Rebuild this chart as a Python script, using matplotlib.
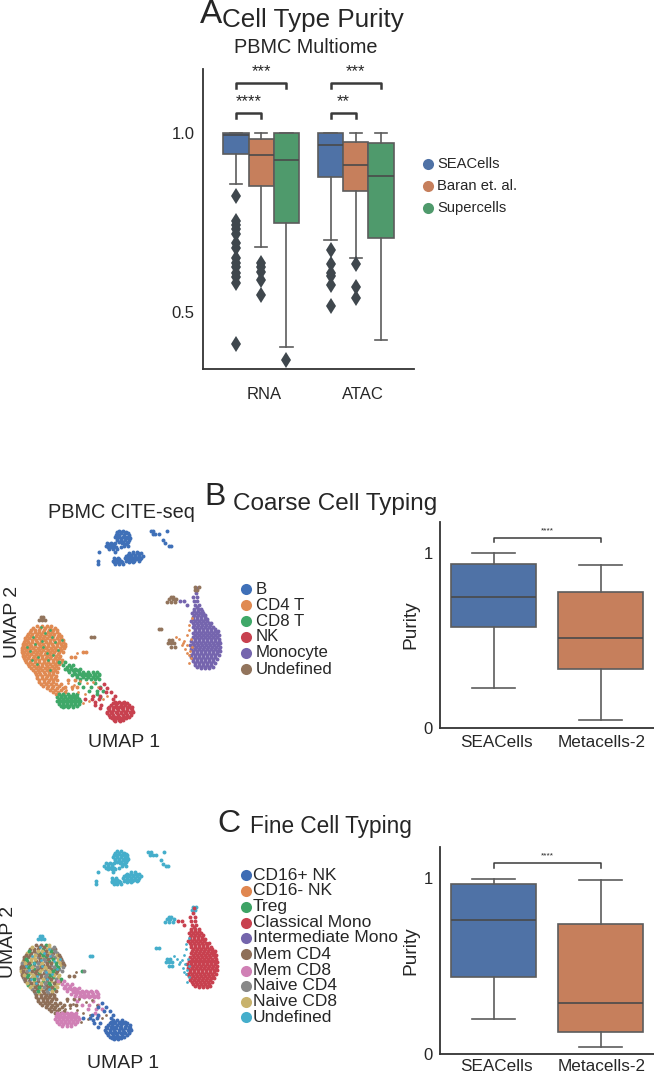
import matplotlib
matplotlib.use('Agg')
import matplotlib.pyplot as plt

plt.rcParams['font.family'] = ['Liberation Sans', 'DejaVu Sans']

W, H = 654, 1073
text_col = '#262626'
line_col = '#3a3a3a'
box_line = '#5c5c5c'
deep = ['#4f72a6', '#c67f5c', '#4f9a6c']

groups_a = ['RNA', 'ATAC']
methods_a = ['SEACells', 'Baran et. al.', 'Supercells']
rna_sea = dict(whishi=1.0, q3=1.0, med=.994, q1=.941, whislo=.859,
               fliers=[.825, .755, .743, .731, .718, .692, .678, .650, .636, .625, .610, .597, .582, .412])
rna_baran = dict(whishi=1.0, q3=.984, med=.940, q1=.852, whislo=.682,
                 fliers=[.636, .625, .613, .589, .548])
rna_super = dict(whishi=1.0, q3=1.0, med=.925, q1=.748, whislo=.403, fliers=[.367])
atac_sea = dict(whishi=1.0, q3=1.0, med=.966, q1=.876, whislo=.702,
                fliers=[.673, .634, .608, .601, .575, .517])
atac_baran = dict(whishi=1.0, q3=.974, med=.910, q1=.839, whislo=.652,
                  fliers=[.634, .569, .540])
atac_super = dict(whishi=1.0, q3=.971, med=.879, q1=.706, whislo=.421, fliers=[])

# panels B and C purity boxes
methods_bc = ['SEACells', 'Metacells-2']
coarse_sea = dict(whishi=1.0, q3=.937, med=.746, q1=.575, whislo=.226, fliers=[])
coarse_meta = dict(whishi=.932, q3=.776, med=.512, q1=.338, whislo=.047, fliers=[])
fine_sea = dict(whishi=.996, q3=.966, med=.759, q1=.440, whislo=.199, fliers=[])
fine_meta = dict(whishi=.99, q3=.738, med=.290, q1=.125, whislo=.040, fliers=[])

# umap points, one row = (umap2, [umap1 ...]), axis units are arbitrary
b_rows = [(122, [358, 370]), (130, [350, 362, 376, 385]), (140, [345, 356, 368, 380, 388]),
          (150, [350, 362, 374, 386]), (158, [322, 334, 346, 366, 380]), (167, [318, 330, 342, 372, 384]),
          (177, [328, 340, 352]), (186, [298, 344, 400, 412]), (194, [384, 394, 406, 418]),
          (203, [342, 354, 376, 388, 400, 412, 424]), (212, [294, 340, 350, 362, 378, 390, 402, 416]),
          (221, [293, 346, 356, 368]), (124, [452, 460, 500]), (133, [458, 466, 476]),
          (150, [490]), (160, [496]), (167, [506, 512]),
          (126, [352, 364, 378]), (135, [348, 358, 372, 386]), (145, [350, 364, 378, 390]),
          (155, [356, 370, 384]), (162, [328, 340, 376]), (172, [324, 336, 348, 364]),
          (190, [388, 400, 414, 424]), (198, [378, 392, 404, 416, 428]),
          (208, [346, 358, 384, 396, 408, 420]), (217, [342, 354, 366, 386, 400])]
mono_rows = [(295, [590]), (310, [588]), (322, [592, 578]), (333, [540, 552, 582, 592]), (345, [560, 584, 596]),
             (358, [582, 594, 604]), (370, [576, 588, 600, 610]), (382, [578, 590, 602, 614]),
             (394, [572, 584, 596, 608, 620]), (406, [582, 594, 606, 618, 630]),
             (418, [586, 598, 610, 622, 634, 644]), (430, [580, 592, 604, 616, 628, 640, 650]),
             (442, [578, 590, 602, 614, 626, 638, 652]), (454, [574, 586, 598, 610, 622, 634, 646, 656]),
             (466, [570, 582, 594, 606, 618, 630, 642, 654]), (478, [572, 584, 596, 608, 620, 632, 644, 658]),
             (490, [578, 590, 602, 614, 626, 638, 650]), (502, [574, 586, 598, 610, 622, 634, 646]),
             (514, [578, 590, 602, 614, 626, 638]), (526, [586, 598, 610, 622, 634]), (535, [604, 616, 628]),
             (351, [590]), (364, [582, 594, 606]), (376, [582, 594, 606, 616]), (388, [578, 590, 602, 614, 622]),
             (400, [578, 590, 602, 614, 626, 634]), (412, [580, 592, 604, 616, 628, 640]),
             (424, [584, 596, 608, 620, 632, 644, 654]), (436, [586, 598, 610, 622, 634, 646, 656]),
             (448, [584, 596, 608, 620, 632, 644, 658]), (460, [580, 592, 604, 616, 628, 640, 652, 660]),
             (472, [576, 588, 600, 612, 624, 636, 648, 660]), (484, [578, 590, 602, 614, 626, 638, 650, 660]),
             (496, [572, 584, 596, 608, 620, 632, 644, 656]), (508, [580, 592, 604, 616, 628, 640, 650]),
             (520, [584, 596, 608, 620, 632, 644]), (530, [592, 604, 616, 628, 638])]
t_rows = [(408, [112, 127, 141, 152]), (420, [92, 105, 118, 131, 146, 160, 170]),
          (432, [83, 97, 110, 123, 137, 150, 163, 176]), (444, [75, 88, 102, 116, 128, 142, 156, 170, 184]),
          (456, [72, 85, 97, 110, 124, 137, 150, 164, 178, 190]),
          (468, [68, 80, 93, 106, 119, 132, 145, 158, 172, 186, 196]),
          (480, [66, 78, 91, 104, 117, 130, 143, 156, 169, 182]),
          (492, [68, 81, 94, 107, 120, 134, 147, 160, 173]),
          (504, [72, 85, 98, 111, 125, 138, 151, 164, 178]),
          (516, [78, 91, 104, 118, 131, 145, 158, 172, 184]),
          (528, [88, 101, 114, 127, 141, 155, 168]), (540, [100, 113, 126, 140, 153, 166]),
          (552, [108, 120, 134, 147, 160]), (564, [112, 125, 138, 152, 165]),
          (576, [118, 131, 145, 158]), (588, [130, 145, 160, 176]), (600, [150, 165, 182]),
          (612, [168, 188]), (500, [212, 225]), (487, [250, 258]), (570, [205, 225]), (590, [195, 215, 232]),
          (414, [100, 120, 135, 150, 165]), (426, [90, 104, 117, 130, 143, 156, 170]),
          (438, [80, 94, 107, 120, 133, 146, 160, 174, 182]), (450, [74, 82, 96, 109, 122, 135, 149, 163, 177, 188]),
          (462, [70, 78, 91, 104, 117, 130, 144, 157, 171, 184, 194]),
          (474, [66, 74, 87, 100, 113, 126, 139, 152, 165, 179, 192]),
          (486, [66, 72, 85, 98, 111, 124, 137, 150, 163, 176, 190]),
          (498, [70, 75, 88, 101, 114, 127, 141, 154, 167, 180]),
          (510, [76, 79, 92, 105, 118, 132, 145, 158, 171, 186]),
          (522, [84, 97, 111, 125, 138, 151, 165, 178]), (534, [94, 107, 120, 134, 148, 161, 175]),
          (546, [104, 118, 132, 146, 160, 172]), (558, [110, 127, 140, 154, 167]),
          (570, [118, 132, 146, 159, 172]), (582, [124, 138, 152, 168, 184]), (594, [140, 156, 170, 190]),
          (606, [158, 175, 195])]
t_speck_x = [100, 125, 150, 90, 130, 165, 115, 145, 175, 110, 150, 80, 135, 105, 160, 185, 140, 95, 122, 155]
t_speck_y = [440, 452, 420, 482, 470, 455, 500, 510, 480, 522, 540, 470, 430, 462, 495, 450, 488, 510, 412, 440]
# loose cells between the T blob and the NK blob
mid_speck_x = [205, 222, 240, 262, 280, 215, 235, 255, 275, 295, 248, 268, 310, 322, 198, 232]
mid_speck_y = [578, 585, 572, 580, 575, 598, 605, 612, 618, 590, 640, 632, 628, 618, 600, 490]
cd8_rows = [(515, [178, 196]), (525, [190, 206, 220]), (536, [196, 212, 226, 240]),
            (546, [206, 222, 236, 250, 264, 278, 292]), (556, [216, 232, 246, 258, 270, 284, 298]),
            (566, [240, 258, 272, 286, 298]), (578, [236, 285]), (590, [250, 272, 300]), (602, [268, 292, 310]),
            (612, [176, 190, 204, 218, 232, 290]), (622, [172, 184, 196, 208, 220, 232, 300]),
            (632, [170, 182, 194, 206, 218, 230, 240]), (642, [176, 188, 200, 212, 224, 236]),
            (652, [190, 204, 218]),
            (551, [226, 240, 254, 268, 282, 296]), (561, [230, 250, 264, 278, 292]),
            (617, [182, 196, 210, 224]), (627, [178, 190, 202, 214, 226, 238]),
            (637, [176, 188, 200, 212, 224, 236]), (647, [182, 194, 206, 218, 230]),
            (530, [200, 214]), (541, [204, 218, 232])]
nk_rows = [(582, [312]), (594, [322, 300]), (606, [334, 318]), (618, [344, 300, 280]), (628, [254, 276, 296, 338]),
           (636, [344, 358, 372, 284]), (645, [334, 348, 362, 376, 388, 286, 304]),
           (655, [324, 338, 352, 366, 380, 392, 300]), (665, [320, 334, 348, 362, 376, 390, 400]),
           (675, [326, 340, 354, 368, 382, 394]), (685, [336, 350, 364, 378]), (692, [346, 360]),
           (640, [338, 352, 366, 380]), (650, [328, 342, 356, 370, 384, 396]), (660, [326, 340, 354, 368, 382, 396]),
           (670, [322, 336, 350, 364, 378, 392]), (680, [330, 344, 358, 372, 386]), (689, [342, 356, 370])]
und_rows = [(380, [122, 128]), (390, [118, 127, 134]), (441, [282, 274]), (328, [508, 518, 528]),
            (336, [502, 514, 526]), (290, [586, 596]), (300, [584, 592]), (416, [476, 484]),
            (450, [508, 516]), (460, [504, 514, 522]), (470, [514, 524]), (322, [514, 520])]
mono_side_x = [566, 560, 572, 552, 562, 576, 570, 548, 556, 566, 574, 560, 568, 538, 545, 528, 566, 575]
mono_side_y = [420, 436, 448, 452, 466, 470, 482, 460, 476, 496, 505, 490, 520, 448, 466, 440, 405, 385]

coarse_names = ['B', 'CD4 T', 'CD8 T', 'NK', 'Monocyte', 'Undefined']
coarse_cols = ['#3f70b8', '#e08a52', '#3fa868', '#c8414f', '#7565ae', '#92745c']
fine_names = ['CD16+ NK', 'CD16- NK', 'Treg', 'Classical Mono', 'Intermediate Mono',
              'Mem CD4', 'Mem CD8', 'Naive CD4', 'Naive CD8', 'Undefined']
fine_cols = ['#3e6cb4', '#e08750', '#3da365', '#c8414f', '#7465ac', '#8e6f58', '#d080b5', '#888888', '#c8b26c', '#45aecb']
# fine label of the T cell points, in the order of t_rows
t_fine_mix = 'hiGjhhiGjHhjiHGHjhHiijHjGhHijGjhiHGjjHhiGHjihHGjihjHGijjhGHihjiGhHjihGjjhHiGjhHjiGHj'
t_key = {'h': 5, 'H': 7, 'j': 8, 'G': 2, 'i': 5}


def flatten(rows):
    xs, ys = [], []
    for y, row in rows:
        for x in row:
            xs.append(x)
            ys.append(y)
    return xs, ys


def px(fig, x, y, s, **kw):
    kw.setdefault('color', text_col)
    return fig.text(x / W, 1 - y / H, s, **kw)


def add_axes(fig, x0, y0, x1, y1):
    return fig.add_axes([x0 / W, 1 - y1 / H, (x1 - x0) / W, (y1 - y0) / H])


def boxes(ax, stats, positions, width, cols, capw):
    art = ax.bxp(stats, positions=positions, widths=width, patch_artist=True, manage_ticks=False,
                 capwidths=capw,
                 boxprops=dict(edgecolor=box_line, linewidth=1.2),
                 medianprops=dict(color='#4a4a4a', linewidth=1.2),
                 whiskerprops=dict(color=box_line, linewidth=1.2),
                 capprops=dict(color=box_line, linewidth=1.2),
                 flierprops=dict(marker='d', markerfacecolor='#3f474d', markeredgewidth=0, markersize=8))
    for patch, c in zip(art['boxes'], cols):
        patch.set_facecolor(c)


def bracket(ax, x0, x1, y, drop, stars, text_y, fs, lw=1.8, xt=None):
    ax.plot([x0, x0, x1, x1], [y - drop, y, y, y - drop], color=line_col, lw=lw, clip_on=False)
    ax.text((x0 + x1) / 2 if xt is None else xt, text_y, stars, ha='center', va='center', fontsize=fs, color=text_col)


def style(ax):
    for s in ['top', 'right']:
        ax.spines[s].set_visible(False)
    for s in ['left', 'bottom']:
        ax.spines[s].set_color('#333333')
        ax.spines[s].set_linewidth(1.3)
    ax.tick_params(length=0, colors=text_col)


def scat(ax, xs, ys, c, s=8):
    ax.scatter(xs, ys, s=s, c=c, linewidths=0)


def umap_axes(fig, rect):
    ax = add_axes(fig, *rect)
    ax.set_xlim(60, 665)
    ax.set_ylim(700, 105)
    ax.axis('off')
    return ax


def legend_dot(fig, x, y, c, ms):
    fig.add_artist(plt.Line2D([x / W], [1 - y / H], marker='o', ms=ms, color=c, mec='none', ls='none'))


fig = plt.figure(figsize=(W / 100, H / 100), dpi=100)

# --- A
ax = add_axes(fig, 203, 69, 414, 369)
ax.set_xlim(-0.614, 1.614)
ax.set_ylim(.341, 1.179)
boxes(ax, [rna_sea, rna_baran, rna_super, atac_sea, atac_baran, atac_super],
      [-.267, 0, .267, .733, 1, 1.267], .267, deep * 2, .133)
ax.set_yticks([.5, 1.0], ['0.5', '1.0'], fontsize=12)
ax.set_xticks([.03, 1.074], groups_a, fontsize=12)
style(ax)
ax.tick_params(axis='x', pad=13)
ax.tick_params(axis='y', pad=6)
bracket(ax, -.267, .267, 1.139, .014, '***', 1.172, 12)
bracket(ax, .733, 1.267, 1.139, .014, '***', 1.172, 12)
bracket(ax, -.267, 0, 1.055, .014, '****', 1.088, 12, xt=-.135)
bracket(ax, .733, 1, 1.055, .014, '**', 1.088, 12, xt=.867)

px(fig, 200, 23, 'A', fontsize=24, va='baseline')
px(fig, 222, 27, 'Cell Type Purity', fontsize=18.7, va='baseline')
px(fig, 234, 53, 'PBMC Multiome', fontsize=14.3, va='baseline')
for name, c, y in zip(methods_a, deep, [164, 186, 208]):
    legend_dot(fig, 428, y, c, 8)
    px(fig, 437, y, name, fontsize=10.6, va='center')

# --- B umap
xb, yb = flatten(b_rows)
xm, ym = flatten(mono_rows)
xt, yt = flatten(t_rows)
x8, y8 = flatten(cd8_rows)
xn, yn = flatten(nk_rows)
xu, yu = flatten(und_rows)

ax = umap_axes(fig, (20, 525, 221.7, 723.3))
scat(ax, xb, yb, coarse_cols[0])
scat(ax, xt, yt, coarse_cols[1])
scat(ax, x8, y8, coarse_cols[2])
scat(ax, t_speck_x, t_speck_y, coarse_cols[2], s=4)
scat(ax, mid_speck_x, mid_speck_y, coarse_cols[1], s=4)
scat(ax, xn, yn, coarse_cols[3])
scat(ax, xm, ym, coarse_cols[4])
scat(ax, mono_side_x, mono_side_y, coarse_cols[1], s=4)
scat(ax, xu, yu, coarse_cols[5])

px(fig, 48, 518, 'PBMC CITE-seq', fontsize=14.3, va='baseline')
px(fig, 204, 505, 'B', fontsize=23, va='baseline')
px(fig, 233, 510, 'Coarse Cell Typing', fontsize=17.5, va='baseline')
px(fig, 88, 747, 'UMAP 1', fontsize=14, va='baseline')
px(fig, 12.5, 622, 'UMAP 2', fontsize=14, rotation=90, ha='center', va='center')
for name, c, y in zip(coarse_names, coarse_cols, [589.3, 605, 621, 636.7, 652.7, 669]):
    legend_dot(fig, 246, y, c, 8)
    px(fig, 256, y, name, fontsize=12.1, va='center')

# --- B box
ax = add_axes(fig, 440, 522, 654, 728)
ax.set_xlim(-.5, 1.5)
ax.set_ylim(0, 1.176)
boxes(ax, [coarse_sea, coarse_meta], [0, 1], .8, deep[:2], .4)
ax.set_yticks([0, 1], ['0', '1'], fontsize=12)
ax.set_xticks([.03, 1.01], methods_bc, fontsize=12.3)
ax.set_ylabel('Purity', fontsize=13.8, color=text_col, labelpad=3)
style(ax)
ax.tick_params(axis='y', pad=5)
ax.tick_params(axis='x', pad=5)
bracket(ax, 0, 1, 1.087, .024, '****', 1.125, 6, lw=1.1)

# --- C umap
ax = umap_axes(fig, (19.1, 845.6, 218.8, 1041.5))
scat(ax, xb, yb, fine_cols[9])
scat(ax, xu, yu, fine_cols[9])
scat(ax, xm, ym, fine_cols[3])
for i in range(len(xt)):
    k = 5 if yt[i] > 555 else t_key[t_fine_mix[i % len(t_fine_mix)]]
    scat(ax, [xt[i]], [yt[i]], fine_cols[k])
scat(ax, x8, y8, fine_cols[6])
scat(ax, t_speck_x, t_speck_y, fine_cols[9], s=4)
scat(ax, mid_speck_x, mid_speck_y, fine_cols[5], s=4)
scat(ax, xn, yn, fine_cols[0])
scat(ax, mono_side_x, mono_side_y, fine_cols[9], s=4)

px(fig, 217, 832, 'C', fontsize=23, va='baseline')
px(fig, 250, 833, 'Fine Cell Typing', fontsize=16.3, va='baseline')
px(fig, 87, 1068, 'UMAP 1', fontsize=14, va='baseline')
px(fig, 9, 942, 'UMAP 2', fontsize=14, rotation=90, ha='center', va='center')
for name, c, y in zip(fine_names, fine_cols, [875, 890.7, 906.7, 922.7, 937.7, 954.3, 970.7, 986, 1001.7, 1017.3]):
    legend_dot(fig, 245.7, y, c, 8)
    px(fig, 253, y, name, fontsize=12.5, va='center')

# --- C box
ax = add_axes(fig, 440, 847, 654, 1054)
ax.set_xlim(-.5, 1.5)
ax.set_ylim(0, 1.176)
boxes(ax, [fine_sea, fine_meta], [0, 1], .8, deep[:2], .4)
ax.set_yticks([0, 1], ['0', '1'], fontsize=12)
ax.set_xticks([.03, 1.01], methods_bc, fontsize=12.3)
ax.set_ylabel('Purity', fontsize=13.8, color=text_col, labelpad=3)
style(ax)
ax.tick_params(axis='y', pad=5)
ax.tick_params(axis='x', pad=3.5)
bracket(ax, 0, 1, 1.083, .026, '****', 1.125, 6, lw=1.1)

fig.savefig('out.png', dpi=100)
